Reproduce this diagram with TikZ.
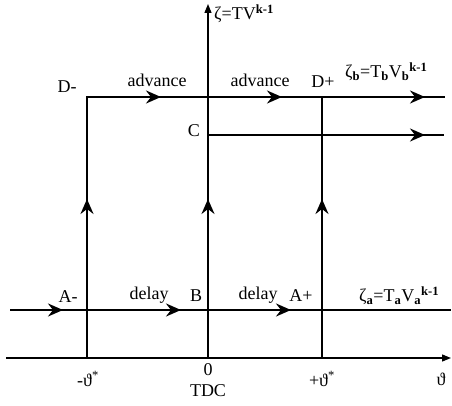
\documentclass[tikz,border=0pt]{standalone}
\usepackage{fontspec}
\setmainfont{Liberation Serif}
\usetikzlibrary{arrows.meta,positioning}

\tikzset{
  line/.style={line width=1.2pt},
  flow/.style={line width=2.2pt,-{Stealth[length=15pt,width=13pt,inset=5pt]}},
  axis/.style={line width=1.3pt,-{Triangle[length=9pt,width=7pt]}},
  lbl/.style={font=\fontsize{18}{20}\selectfont,inner sep=1pt}
}

\begin{document}
\begin{tikzpicture}[x=1pt,y=-1pt]
  \useasboundingbox (0,0) rectangle (452,406);
  % key points
  \coordinate (O) at (208,358);
  \coordinate (Am) at (87,310);
  \coordinate (B) at (208,310);
  \coordinate (Ap) at (322,310);
  \coordinate (Dm) at (87,97);
  \coordinate (Dp) at (322,97);
  \coordinate (C) at (208,135);
  \coordinate (tm) at (87,358);
  \coordinate (tp) at (322,358);
  \coordinate (aend) at (451,310);
  \coordinate (astart) at (10,310);
  \coordinate (bend) at (445,97);
  \coordinate (cend) at (444,135);
  \coordinate (ztop) at (208,4);
  \coordinate (tstart) at (6,358);
  \coordinate (tend) at (451,358);

  % axes
  \draw[axis] (tstart) -- (tend);
  \draw[axis] (O) -- (ztop);

  % lines
  \draw[line] (astart) -- (aend);
  \draw[line] (tm) -- (Dm) -- (bend);
  \draw[line] (tp) -- (Dp);
  \draw[line] (C) -- (cend);

  % arrows on the lines
  \draw[flow] (12,310) -- (63,310);
  \draw[flow] (138,310) -- (181,310);
  \draw[flow] (248,310) -- (291,310);
  \draw[flow] (118,97) -- (161,97);
  \draw[flow] (238,97) -- (282,97);
  \draw[flow] (380,97) -- (425,97);
  \draw[flow] (380,135) -- (425,135);
  \foreach \x in {87,208,322}
    \draw[flow] (\x,240) -- (\x,199);

  % labels
  \node[lbl,anchor=west] (zeta) at (213,14) {ζ=TV\textsuperscript{\textbf{k-1}}};
  \node[lbl] (lDm) at (67,87) {D-};
  \node[lbl] (adv1) at (157,80) {advance};
  \node[lbl] (adv2) at (260,80) {advance};
  \node[lbl] (lDp) at (323,82) {D+};
  \node[lbl,anchor=west] (zb) at (344,72) {ζ\textsubscript{\textbf{b}}=T\textsubscript{\textbf{b}}V\textsubscript{\textbf{b}}\textsuperscript{\textbf{k-1}}};
  \node[lbl] (lC) at (194,131) {C};
  \node[lbl] (lAm) at (68,297) {A-};
  \node[lbl] (del1) at (149,295) {delay};
  \node[lbl] (lB) at (196,296) {B};
  \node[lbl] (del2) at (258,295) {delay};
  \node[lbl] (lAp) at (301,296) {A+};
  \node[lbl,anchor=west] (za) at (358,296) {ζ\textsubscript{\textbf{a}}=T\textsubscript{\textbf{a}}V\textsubscript{\textbf{a}}\textsuperscript{\textbf{k-1}}};
  \node[lbl] (lm) at (88,379) {-ϑ\textsuperscript{*}};
  \node[lbl] (l0) at (208,370) {0};
  \node[lbl] (tdc) at (208,391) {TDC};
  \node[lbl] (lp) at (322,379) {+ϑ\textsuperscript{*}};
  \node[lbl] (lth) at (441,379) {ϑ};
\end{tikzpicture}
\end{document}
